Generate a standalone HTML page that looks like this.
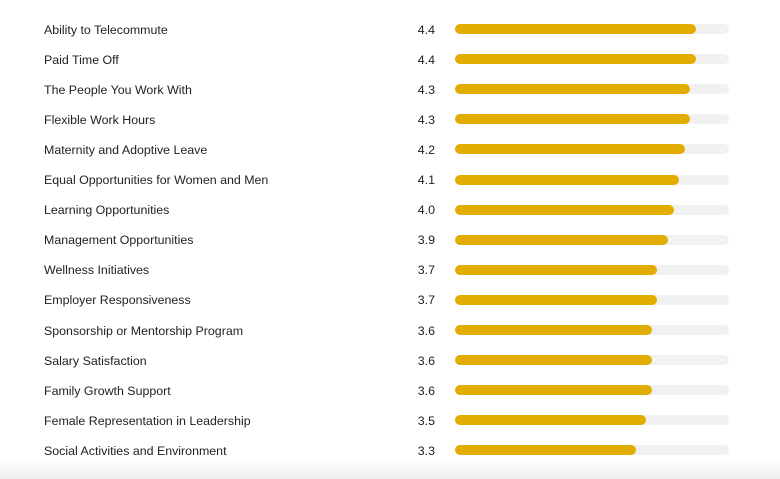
<!DOCTYPE html>
<html><head><style>
body{margin:0;width:780px;height:479px;background:#fff;position:relative;overflow:hidden;font-family:"Liberation Sans",Arial,sans-serif;font-size:12.4px;color:#222}
.r{position:absolute;left:0;width:780px;height:20px}
.l{position:absolute;left:44px;top:3.5px}
.v{position:absolute;right:345px;top:3.5px}
.t{position:absolute;left:455px;width:274px;height:10px;top:5px;background:#f1f1f1;border-radius:5px}
.f{height:10px;background:#e2ad00;border-radius:5px}
.sh{position:absolute;left:0;top:458px;width:780px;height:21px;background:linear-gradient(#fff,#efefef)}
</style></head><body>
<div class="sh"></div>
<div id="c"></div>
<script>
var d=[["Ability to Telecommute",4.4],["Paid Time Off",4.4],["The People You Work With",4.3],["Flexible Work Hours",4.3],["Maternity and Adoptive Leave",4.2],["Equal Opportunities for Women and Men",4.1],["Learning Opportunities",4.0],["Management Opportunities",3.9],["Wellness Initiatives",3.7],["Employer Responsiveness",3.7],["Sponsorship or Mentorship Program",3.6],["Salary Satisfaction",3.6],["Family Growth Support",3.6],["Female Representation in Leadership",3.5],["Social Activities and Environment",3.3]];
var h="";d.forEach(function(x,i){var y=19+i*30.1;h+='<div class="r" style="top:'+y+'px"><span class="l">'+x[0]+'</span><span class="v">'+x[1].toFixed(1)+'</span><div class="t"><div class="f" style="width:'+(x[1]*54.7)+'px"></div></div></div>';});
document.getElementById("c").innerHTML=h;
</script>
</body></html>
